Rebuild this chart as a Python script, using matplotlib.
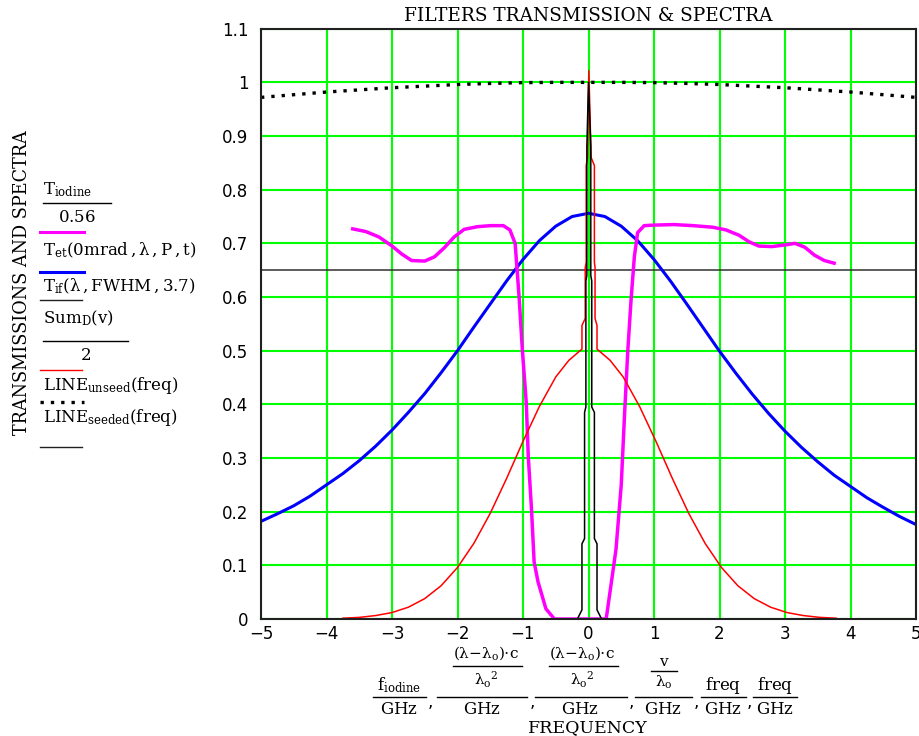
import matplotlib
matplotlib.use('Agg')
import matplotlib.pyplot as plt
from matplotlib.lines import Line2D

# Mathcad style text: upright serif in math mode
plt.rcParams['mathtext.fontset'] = 'dejavuserif'
plt.rcParams['mathtext.default'] = 'rm'

# ---- data ----
# dotted curve (LINE unseeded)
dot_x = [-5, -4.5, -4, -3.5, -3, -2.5, -2, -1.5, -1, -0.5, 0, 0.5, 1, 1.5, 2, 2.5, 3, 3.5, 4, 4.5, 5]
dot_y = [0.972, 0.977, 0.982, 0.986, 0.990, 0.993, 0.996, 0.998, 0.9995, 1.0, 1.0,
         1.0, 0.9995, 0.998, 0.996, 0.993, 0.990, 0.986, 0.982, 0.977, 0.972]

# blue interference filter curve
blue_x = [-5, -4.75, -4.5, -4.25, -4, -3.75, -3.5, -3.25, -3, -2.75, -2.5, -2.25, -2, -1.75, -1.5,
          -1.25, -1, -0.75, -0.5, -0.25, 0, 0.25, 0.5, 0.75, 1, 1.25, 1.5, 1.75, 2, 2.25, 2.5,
          2.75, 3, 3.25, 3.5, 3.75, 4, 4.25, 4.5, 4.75, 5]
blue_y = [0.182, 0.196, 0.211, 0.229, 0.250, 0.271, 0.295, 0.322, 0.352, 0.385, 0.420, 0.459, 0.500,
          0.544, 0.587, 0.630, 0.670, 0.705, 0.732, 0.750, 0.756, 0.750, 0.732, 0.705, 0.670, 0.630,
          0.587, 0.543, 0.499, 0.458, 0.419, 0.383, 0.350, 0.320, 0.293, 0.268, 0.247, 0.226, 0.208,
          0.191, 0.176]

# magenta iodine transmission
mag_x = [-3.6, -3.4, -3.2, -3.0, -2.85, -2.7, -2.5, -2.35, -2.2, -2.05, -1.9, -1.7, -1.5, -1.3,
         -1.2, -1.12, -1.06, -1.01, -0.95, -0.92, -0.87, -0.83, -0.77, -0.65, -0.52,
         0.27, 0.35, 0.42, 0.50, 0.55, 0.60, 0.65, 0.70, 0.75, 0.85, 1.0, 1.3, 1.6, 1.9,
         2.1, 2.3, 2.45, 2.6, 2.8, 3.0, 3.15, 3.3, 3.45, 3.6, 3.75]
mag_y = [0.727, 0.722, 0.712, 0.695, 0.680, 0.668, 0.667, 0.675, 0.692, 0.712, 0.726, 0.731, 0.733, 0.733,
         0.725, 0.700, 0.601, 0.502, 0.403, 0.304, 0.204, 0.106, 0.069, 0.019, 0.0,
         0.0, 0.069, 0.130, 0.250, 0.380, 0.500, 0.595, 0.675, 0.720, 0.733, 0.734, 0.735, 0.733, 0.730,
         0.725, 0.715, 0.703, 0.695, 0.694, 0.697, 0.700, 0.693, 0.678, 0.668, 0.663]

# red Sum_D/2 : broad part plus narrow spike in the middle
red_x = [-3.75, -3.5, -3.25, -3.0, -2.75, -2.5, -2.25, -2.0, -1.75, -1.5, -1.25, -1.0, -0.75, -0.5, -0.3,
         -0.10, -0.10, -0.05, -0.05, -0.035, -0.035, -0.015, 0.005, 0.04, 0.09, 0.09, 0.10, 0.10, 0.13, 0.13,
         0.33, 0.53, 0.78, 1.03, 1.28, 1.53, 1.78, 2.03, 2.28, 2.53, 2.78, 3.03, 3.28, 3.53, 3.78]
red_y = [0.0015, 0.003, 0.0064, 0.012, 0.022, 0.038, 0.062, 0.096, 0.141, 0.197, 0.262, 0.331, 0.396, 0.451, 0.482,
         0.503, 0.547, 0.560, 0.655, 0.665, 0.845, 0.860, 1.022, 0.860, 0.845, 0.665, 0.655, 0.560, 0.547, 0.503,
         0.482, 0.451, 0.396, 0.331, 0.262, 0.197, 0.141, 0.096, 0.062, 0.038, 0.022, 0.012, 0.0064, 0.003, 0.0015]

# black seeded line spike
seed_x = [-0.32, -0.17, -0.10, -0.10, -0.06, -0.06, -0.04, -0.04, -0.025, -0.025, 0.0,
          0.035, 0.035, 0.05, 0.05, 0.09, 0.09, 0.13, 0.13, 0.20, 0.35]
seed_y = [0.0, 0.0, 0.017, 0.14, 0.15, 0.385, 0.395, 0.63, 0.64, 0.88, 1.0,
          0.88, 0.64, 0.63, 0.395, 0.385, 0.15, 0.14, 0.017, 0.0, 0.0]

# thin black horizontal level
level_y = 0.65

x_ticks = [-5, -4, -3, -2, -1, 0, 1, 2, 3, 4, 5]
y_ticks = [0, 0.1, 0.2, 0.3, 0.4, 0.5, 0.6, 0.7, 0.8, 0.9, 1.0, 1.1]
y_tick_labels = ['0', '0.1', '0.2', '0.3', '0.4', '0.5', '0.6', '0.7', '0.8', '0.9', '1', '1.1']

W, H = 919, 736


def px(x, y):
    # pixel position -> figure fraction
    return x / W, 1 - y / H


fig = plt.figure(figsize=(W / 100, H / 100), dpi=100)
ax = fig.add_axes([261 / W, 1 - 619 / H, 655 / W, (619 - 28.7) / H])

ax.set_xlim(-5, 5)
ax.set_ylim(0, 1.1)
ax.set_xticks(x_ticks)
ax.set_yticks(y_ticks)
ax.set_yticklabels(y_tick_labels)
ax.grid(color='#00ff00', lw=1.5)
ax.set_axisbelow(True)
ax.tick_params(length=0, labelsize=12, colors='black')
ax.tick_params(axis='y', pad=9)
ax.tick_params(axis='x', pad=4)
for s in ax.spines.values():
    s.set_color('#202020')
    s.set_linewidth(1.5)

# curves
ax.axhline(level_y, color='#303030', lw=1.1)
ax.plot(blue_x, blue_y, color='#0000ff', lw=2.2)
ax.plot(mag_x, mag_y, color='#ff00ff', lw=2.5)
ax.plot(red_x, red_y, color='#ff0000', lw=1.1)
ax.plot(seed_x, seed_y, color='black', lw=1.1)
ax.plot(dot_x, dot_y, color='black', lw=2.4, linestyle=(0, (1, 2.1)))

serif = 'DejaVu Serif'
fs = 12

# title
fig.text(*px(588, 16), 'FILTERS TRANSMISSION & SPECTRA', ha='center', va='center',
         family=serif, size=13.3)

# y axis label
fig.text(*px(22, 283), 'TRANSMISSIONS AND SPECTRA', rotation=90, ha='center', va='center',
         family=serif, size=12.7)


def hline(x0, x1, y, color='black', lw=1.0, ls='-'):
    a, b = px(x0, y)
    c, _ = px(x1, y)
    fig.add_artist(Line2D([a, c], [b, b], color=color, lw=lw, linestyle=ls))


def put(x, y, s, ha='center', size=fs):
    fig.text(*px(x, y), s, ha=ha, va='center', size=size)


# legend block on the left
put(43, 190, r'$T_{iodine}$', 'left')
hline(43, 111, 203)
put(77, 217, r'$0.56$')
hline(40, 84, 232, '#ff00ff', 2.2)
put(43, 250, r'$T_{et}(0mrad\,,\lambda\,,P\,,t)$', 'left')
hline(40, 84, 272, '#0000ff', 2.2)
put(43, 286, r'$T_{if}(\lambda\,,FWHM\,,3.7)$', 'left')
hline(40, 82, 300, '#202020', 1.0)
put(43, 318, r'$Sum_{D}(v)$', 'left')
hline(43, 128, 341)
put(85, 355, r'$2$')
hline(40, 82, 370, '#ff0000', 1.0)
put(43, 385, r'$LINE_{unseed}(freq)$', 'left')
hline(40, 84, 402, 'black', 2.4, (0, (1, 2.1)))
put(43, 418, r'$LINE_{seeded}(freq)$', 'left')
hline(40, 82, 447, '#202020', 1.0)


# x axis label built as Mathcad fractions
def frac(cx, x0, x1, top):
    if top:
        put(cx, 685, top)
    hline(x0, x1, 697)
    put(cx, 709, r'$GHz$')


def lam_frac(cx, x0, x1):
    put(cx, 653, r'$(\lambda{-}\lambda_o){\cdot}c$', size=11)
    hline(x0, x1, 666)
    put(cx, 680, r'$\lambda_o{}^{2}$', size=11)


frac(399, 373, 426, r'$f_{iodine}$')
put(430, 702, ',')
frac(482, 437, 527, '')
lam_frac(486, 453, 522)
put(532, 702, ',')
frac(580, 535, 627, '')
lam_frac(582, 549, 618)
put(631, 702, ',')
frac(663, 635, 692, '')
put(664, 662, r'$v$', size=11)
hline(651, 677, 671)
put(664, 682, r'$\lambda_o$', size=11)
put(696, 702, ',')
frac(723, 701, 746, r'$freq$')
put(749, 702, ',')
frac(775, 753, 797, r'$freq$')
fig.text(*px(588, 728), 'FREQUENCY', ha='center', va='center', family=serif, size=12.5)

fig.savefig('out.png', dpi=100, facecolor='white')
